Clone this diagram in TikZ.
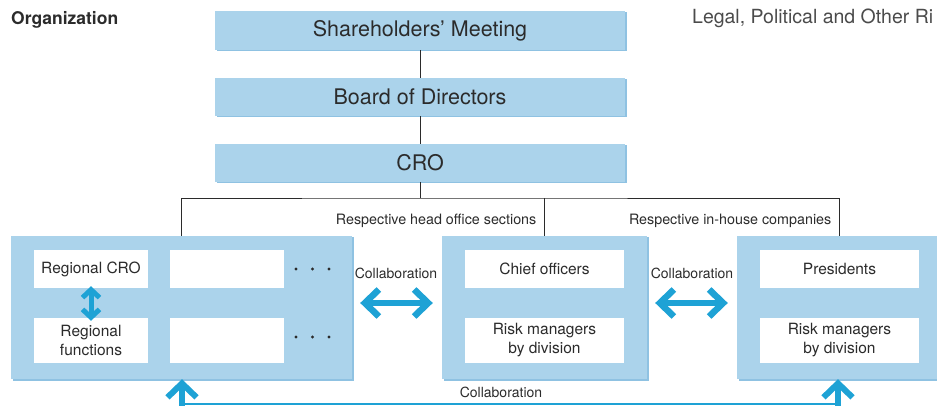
\documentclass[tikz,border=0pt]{standalone}
\usepackage{fontspec}
\setmainfont{TeX Gyre Heros}
\usetikzlibrary{calc}
\usetikzlibrary{arrows.meta}
\definecolor{boxblue}{HTML}{ABD3EB}
\definecolor{shadeblue}{HTML}{8FC2E2}
\definecolor{arrowblue}{HTML}{1EA2D5}
\definecolor{txt}{HTML}{2B2B2B}
\tikzset{
  topbox/.style={fill=boxblue, minimum width=410pt, minimum height=38pt, inner sep=0pt,
    font=\fontsize{21.5}{24}\selectfont, text=txt,
    preaction={fill=shadeblue, transform canvas={shift={(1.5pt,-1.5pt)}}}},
  group/.style={fill=boxblue, minimum height=143pt, inner sep=0pt,
    preaction={fill=shadeblue, transform canvas={shift={(1.5pt,-1.5pt)}}}},
  cell/.style={fill=white, inner sep=0pt, align=center, text=txt,
    font=\fontsize{15.5}{19}\selectfont},
  lbl/.style={inner sep=0pt, text=txt, font=\fontsize{14.3}{16}\selectfont},
  collab/.style={draw=arrowblue, line width=6.5pt,
    {Straight Barb[length=14pt,width=27pt]}-{Straight Barb[length=14pt,width=27pt]}},
  updown/.style={draw=arrowblue, line width=5pt,
    {Straight Barb[length=8pt,width=17pt]}-{Straight Barb[length=8pt,width=17pt]}},
  uparrow/.style={draw=arrowblue, line width=6pt, -{Straight Barb[length=14pt,width=29pt]}},
}
\begin{document}
\begin{tikzpicture}[x=1pt,y=-1pt]
\useasboundingbox (0,0) rectangle (937,406);
\node[anchor=west, inner sep=0pt, text=txt, font=\fontsize{17.5}{20}\selectfont\bfseries] (title) at (11,20) {Organization};
\node[anchor=west, inner sep=0pt, text=txt!85, font=\fontsize{19.5}{22}\selectfont] (section) at (692,18) {Legal, Political and Other Ri};

\node[topbox, minimum height=39pt] (share) at (420,30.5) {\raisebox{-2pt}{Shareholders’ Meeting}};
\node[topbox] (board) at (420,97) {Board of Directors};
\node[topbox] (cro) at (420,163) {CRO};

\node[group, minimum width=341pt] (left) at (181.5,307.5) {};
\node[group, minimum width=205pt] (mid) at (544.5,307.5) {};
\node[group, minimum width=205pt] (right) at (839.5,307.5) {};

\node[cell, minimum width=114pt, minimum height=38pt] (rcro) at (91,269) {Regional CRO};
\node[cell, minimum width=114pt, minimum height=45pt] (rfun) at (91,340.5) {Regional\\functions};
\node[cell, minimum width=114pt, minimum height=38pt] (rx1) at (227,269) {};
\node[cell, minimum width=114pt, minimum height=45pt] (rx2) at (227,340.5) {};
\foreach \y in {269,337} {
  \foreach \x in {296,312.5,329}
    \fill[txt] (\x,\y) circle (1.7pt);
}
\node[cell, minimum width=159pt, minimum height=38pt] (chief) at (544.5,269) {Chief officers};
\node[cell, minimum width=159pt, minimum height=45pt] (mrisk) at (544.5,340.5) {Risk managers\\by division};
\node[cell, minimum width=159pt, minimum height=38pt] (pres) at (839.5,269) {Presidents};
\node[cell, minimum width=159pt, minimum height=45pt] (crisk) at (839.5,340.5) {Risk managers\\by division};

% reporting lines
\coordinate (bus) at (420,198);
\draw[txt, line width=0.8pt] (share) -- (board) (board) -- (cro);
\draw[txt, line width=0.8pt] (cro.south) -- (bus);
\draw[txt, line width=0.8pt] (left.north) |- (bus) -| (right.north);
\draw[txt, line width=0.8pt] (mid.north) -- (mid.north |- bus);
\node[lbl, anchor=east] (headlbl) at ($(mid.north)+(-8,-14.5)$) {Respective head office sections};
\node[lbl, anchor=east] (comlbl) at ($(right.north)+(-8,-14.5)$) {Respective in-house companies};

% collaboration
\draw[updown] ($(rcro.south)+(0,-2)$) -- ($(rfun.north)+(0,3)$);
\draw[collab] ($(left.east)+(8,-4.5)$) -- ($(mid.west)+(-9,-4.5)$);
\draw[collab] ($(mid.east)+(8,-4.5)$) -- ($(right.west)+(-9,-4.5)$);
\node[lbl, font=\fontsize{14}{16}\selectfont] (col1) at (396,273) {Collaboration};
\node[lbl, font=\fontsize{14}{16}\selectfont] (col2) at (692,273) {Collaboration};

\coordinate (lfoot) at ($(left.south)+(0.5,27)$);
\coordinate (rfoot) at ($(right.south)+(-1.5,27)$);
\draw[arrowblue, line width=2pt] ($(lfoot)+(0,-2)$) -- ($(rfoot)+(0,-2)$);
\draw[uparrow] (lfoot) -- ($(left.south)+(0.5,0)$);
\draw[uparrow] (rfoot) -- ($(right.south)+(-1.5,0)$);
\node[lbl, font=\fontsize{14}{16}\selectfont] (col3) at (501,392) {Collaboration};
\end{tikzpicture}
\end{document}
